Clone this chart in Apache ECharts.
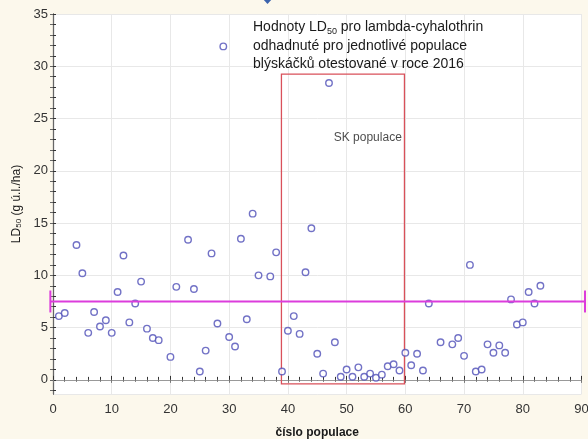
<!DOCTYPE html>
<html>
<head>
<meta charset="utf-8">
<title>LD50 lambda-cyhalothrin</title>
<script src="https://cdn.jsdelivr.net/npm/echarts@6/dist/echarts.min.js"></script>
<style>
  html, body { margin: 0; padding: 0; background: #fcf8ec; }
  #chart { width: 588px; height: 439px; }
</style>
</head>
<body>
<div id="chart"></div>
<script>
// cislo populace / LD50 odhad
const populace = [1, 2, 4, 5, 6, 7, 8, 9, 10, 11, 12, 13, 14, 15, 16, 17, 18, 20, 21, 23,
  24, 25, 26, 27, 28, 29, 30, 31, 32, 33, 34, 35, 37, 38, 39, 40, 41, 42, 43, 44,
  45, 46, 47, 48, 49, 50, 51, 52, 53, 54, 55, 56, 57, 58, 59, 60, 61, 62, 63, 64,
  66, 68, 69, 70, 71, 72, 73, 74, 75, 76, 77, 78, 79, 80, 81, 82, 83]
const ld50 = [6.1, 6.4, 12.9, 10.2, 4.5, 6.5, 5.1, 5.7, 4.5, 8.4, 11.9, 5.5, 7.3, 9.4, 4.9, 4.0, 3.8, 2.2, 8.9, 13.4,
  8.7, 0.8, 2.8, 12.1, 5.4, 31.9, 4.1, 3.2, 13.5, 5.8, 15.9, 10.0, 9.9, 12.2, 0.8, 4.7, 6.1, 4.4, 10.3, 14.5,
  2.5, 0.6, 28.4, 3.6, 0.3, 1.0, 0.3, 1.2, 0.3, 0.6, 0.2, 0.5, 1.3, 1.5, 0.9, 2.6, 1.4, 2.5, 0.9, 7.3,
  3.6, 3.4, 4.0, 2.3, 11.0, 0.8, 1.0, 3.4, 2.6, 3.3, 2.6, 7.7, 5.3, 5.5, 8.4, 7.3, 9.0]

// prumer (vodorovna cara) s koncovymi znackami: [x od, x do], y, [y dolni, y horni]
const meanX = [-0.45, 90.6]
const meanY = 7.5
const capY = [6.45, 8.55]

// obdelnik SK populace [x1, y1, x2, y2]
const skBox = [38.9, -0.38, 59.85, 29.25]
const skLabel = [[59.4, 23.2]]

const xTicks = [0, 10, 20, 30, 40, 50, 60, 70, 80, 90]
const yTicks = [0, 5, 10, 15, 20, 25, 30, 35]
const yMinor = []
for (let v = -1; v <= 35; v++) yMinor.push(v)

const font = 'Liberation Sans, Arial, sans-serif'
const magenta = '#dc3cdc'
const chart = echarts.init(document.getElementById('chart'))

const scatterData = populace.map((p, i) => [p, ld50[i]])

const yBase = { type: 'value', min: -1.35, max: 35, splitNumber: 7, minInterval: 5, maxInterval: 5 }

chart.setOption({
  backgroundColor: '#fcf8ec',
  animation: false,
  textStyle: { fontFamily: font },
  grid: {
    left: 53, right: 6.5, top: 14, bottom: 45,
    containLabel: false, outerBoundsMode: 'none',
    show: true, backgroundColor: '#ffffff', borderWidth: 0,
  },
  xAxis: [
    {
      type: 'value', min: 0, max: 90, interval: 10,
      name: 'číslo populace', nameLocation: 'middle', nameGap: 33,
      nameTextStyle: { fontSize: 12, fontWeight: 'bold', color: '#1a1a1a', fontFamily: font },
      axisLine: { show: true, lineStyle: { color: '#333', width: 1.2 } },
      axisTick: { show: true, inside: true, length: 4, lineStyle: { color: '#333' } },
      minorTick: { show: true, splitNumber: 5, length: 3, lineStyle: { color: '#333' } },
      axisLabel: { fontSize: 13, color: '#333', margin: 9, customValues: xTicks, fontFamily: font },
      splitLine: { show: true, lineStyle: { color: '#e8e8e8', width: 1 } },
    },
    {
      type: 'value', position: 'top', min: 0, max: 90, interval: 10,
      axisLine: { show: true, lineStyle: { color: '#999', width: 1 } },
      axisTick: { show: true, inside: true, length: 3, lineStyle: { color: '#777' } },
      minorTick: { show: true, splitNumber: 5, length: 2, lineStyle: { color: '#777' } },
      axisLabel: { show: false },
      splitLine: { show: false },
    },
  ],
  yAxis: [
    Object.assign({}, yBase, {
      name: 'LD{sub|50} (g ú.l./ha)', nameLocation: 'middle', nameGap: 30,
      nameTextStyle: {
        fontSize: 12, color: '#1a1a1a', fontFamily: font,
        rich: { sub: { fontSize: 8, lineHeight: 10, verticalAlign: 'bottom', fontFamily: font, color: '#1a1a1a' } },
      },
      axisLine: { show: true, lineStyle: { color: '#333', width: 1.2 } },
      axisTick: { show: true, inside: true, length: 3, customValues: yMinor, lineStyle: { color: '#333' } },
      axisLabel: { fontSize: 13, color: '#333', margin: 5, customValues: yTicks, fontFamily: font },
      splitLine: { show: false },
    }),
    Object.assign({}, yBase, {
      position: 'right',
      axisLine: { show: true, lineStyle: { color: '#666', width: 1 } },
      axisTick: { show: true, inside: true, length: 3, customValues: yMinor, lineStyle: { color: '#666' } },
      axisLabel: { show: false },
      splitLine: { show: false },
    }),
    // jen mrizka po 5
    Object.assign({}, yBase, {
      position: 'left',
      axisLine: { show: false },
      axisTick: { show: false },
      axisLabel: { show: false },
      splitLine: { show: true, lineStyle: { color: '#e8e8e8', width: 1 } },
    }),
  ],
  series: [
    {
      name: 'LD50',
      type: 'scatter',
      data: scatterData,
      symbol: 'circle',
      symbolSize: 6.5,
      itemStyle: { color: '#ffffff', borderColor: '#4f4fb8', borderWidth: 1.4 },
      z: 5,
    },
    {
      name: 'SK',
      type: 'scatter',
      data: skLabel,
      symbolSize: 0,
      label: {
        show: true, position: 'left', distance: 0, formatter: 'SK populace',
        fontSize: 12, color: '#1a1a1a', fontFamily: font,
      },
      markArea: {
        silent: true,
        itemStyle: { color: 'rgba(0,0,0,0)', borderColor: '#d9505a', borderWidth: 1.3 },
        data: [[{ coord: [skBox[0], skBox[1]] }, { coord: [skBox[2], skBox[3]] }]],
      },
      z: 3,
    },
  ],
})

// prumerna cara presahuje osy, proto se kresli jako grafika z prevedenych souradnic
const toPx = (x, y) => chart.convertToPixel({ gridIndex: 0 }, [x, y])
const a = toPx(meanX[0], meanY)
const b = toPx(meanX[1], meanY)
const l0 = toPx(meanX[0], capY[0]), l1 = toPx(meanX[0], capY[1])
const r0 = toPx(meanX[1], capY[0]), r1 = toPx(meanX[1], capY[1])
const lineStyle = { stroke: magenta, lineWidth: 2 }

chart.setOption({
  graphic: [
    {
      type: 'text', left: 253, top: 18,
      style: {
        text: 'Hodnoty LD{sub|50} pro lambda-cyhalothrin\nodhadnuté pro jednotlivé populace\nblýskáčků otestované v roce 2016',
        fontSize: 14, fontFamily: font, fill: '#1a1a1a', lineHeight: 18.5,
        rich: { sub: { fontSize: 9, lineHeight: 11, verticalAlign: 'bottom', fontFamily: font, fill: '#1a1a1a' } },
      },
      z: 10,
    },
    {
      type: 'polygon', z: 10,
      shape: { points: [[262, -2], [267.5, 4], [273, -2]] },
      style: { fill: '#3b63ad' },
    },
    { type: 'line', z: 6, shape: { x1: a[0], y1: a[1], x2: b[0], y2: b[1] }, style: lineStyle },
    { type: 'line', z: 6, shape: { x1: l0[0], y1: l0[1], x2: l1[0], y2: l1[1] }, style: lineStyle },
    { type: 'line', z: 6, shape: { x1: r0[0], y1: r0[1], x2: r1[0], y2: r1[1] }, style: lineStyle },
  ],
})
</script>
</body>
</html>
